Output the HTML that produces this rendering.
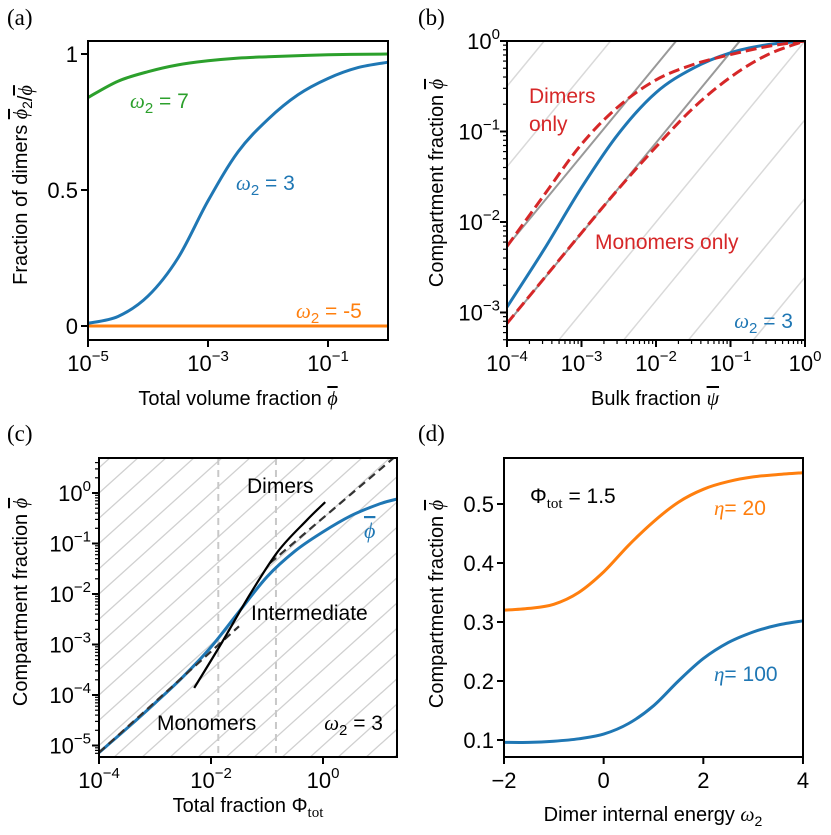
<!DOCTYPE html>
<html><head><meta charset="utf-8"><style>
html,body{margin:0;padding:0;background:#fff;width:831px;height:835px;overflow:hidden;}
svg{display:block;font-family:"Liberation Sans","DejaVu Sans",sans-serif;}
.ser{font-family:"Liberation Serif","DejaVu Serif",serif;}
.ov{text-decoration:overline;font-style:italic;}
</style></head><body>
<svg id="fig" width="831" height="835" viewBox="0 0 831 835" xmlns="http://www.w3.org/2000/svg">
<defs>
<clipPath id="clipB"><rect x="507" y="41" width="298" height="299"/></clipPath>
<clipPath id="clipC"><rect x="99" y="458" width="298" height="299"/></clipPath>
</defs>
</svg>
<script>
// ---------- data ----------
const aGreenX = [-5, -4.5, -4, -3.5, -3, -2.5, -2, -1, 0];
const aGreenY = [0.84, 0.90, 0.935, 0.96, 0.975, 0.985, 0.99, 0.997, 1.0];
const aBlueX = [-5, -4.5, -4, -3.5, -3, -2.5, -2, -1.5, -1, -0.5, 0];
const aBlueY = [0.01, 0.035, 0.11, 0.25, 0.46, 0.64, 0.76, 0.85, 0.91, 0.95, 0.97];
const aOrangeX = [-5, 0];
const aOrangeY = [0.0, 0.0];
const bBlueX = [-4, -3.5, -3, -2.5, -2, -1.5, -1, -0.5, 0];
const bBlueY = [-2.94, -2.3, -1.62, -1.02, -0.57, -0.3, -0.13, -0.04, 0];
const bDimX = [-4, -3.5, -3, -2.5, -2, -1.5, -1, -0.5, 0];
const bDimY = [-2.27, -1.7, -1.14, -0.72, -0.43, -0.26, -0.15, -0.06, 0];
const bMonX = [-4, -3.5, -3, -2.5, -2, -1.5, -1, -0.5, 0];
const bMonY = [-3.12, -2.62, -2.12, -1.63, -1.17, -0.74, -0.4, -0.15, 0];
const bGuideLogC = [-2.61, -1.74, -0.87, 0, 0.875, 1.73, 2.61, 3.5];
const bGuideDark = [false, false, false, false, true, true, false, false];
const cBlueX = [-4, -3.5, -3, -2.5, -2, -1.5, -1, -0.5, 0, 0.5, 1, 1.32];
const cBlueY = [-5.14, -4.66, -4.16, -3.64, -3.05, -2.35, -1.66, -1.15, -0.77, -0.45, -0.22, -0.12];
const cMonoX = [-4, -1.5];
const cMonoY = [-5.14, -2.64];
const cDimX = [-0.95, 1.32];
const cDimY = [-1.39, 0.75];
const cAsymX = [-2.3, -1.8, -1.3, -0.8, -0.3, 0.04];
const cAsymY = [-3.86, -2.95, -2.0, -1.15, -0.55, -0.18];
const cVLines = [-1.87, -0.84];
const dX = [-2, -1.5, -1, -0.5, 0, 0.5, 1, 1.5, 2, 2.5, 3, 3.5, 4];
const dOrange = [0.32, 0.323, 0.33, 0.35, 0.385, 0.43, 0.47, 0.503, 0.525, 0.538, 0.546, 0.55, 0.553];
const dBlue = [0.096, 0.096, 0.098, 0.102, 0.11, 0.128, 0.158, 0.2, 0.238, 0.265, 0.283, 0.295, 0.302];
const aXTicks = [-5, -3, -1];
const aYTicks = [0, 0.5, 1];
const aYTickLabels = ["0", "0.5", "1"];
const bXTicks = [-4, -3, -2, -1, 0];
const bYTicks = [-3, -2, -1, 0];
const cXTicks = [-4, -2, 0];
const cYTicks = [-5, -4, -3, -2, -1, 0];
const dXTicks = [-2, 0, 2, 4];
const dXTickLabels = ["\u22122", "0", "2", "4"];
const dYTicks = [0.1, 0.2, 0.3, 0.4, 0.5];
const dYTickLabels = ["0.1", "0.2", "0.3", "0.4", "0.5"];

const xA = l => 88 + (l + 5) * 60;
const yA = v => 326 - v * 272;
const xB = l => 507 + (l + 4) * 74.5;
const yB = l => 41 - l * 90.5;
const xC = l => 99 + (l + 4) * 56;
const yC = l => 493 - l * 50.5;
const xD = v => 504 + (v + 2) * 49.83;
const yD = v => 504 - (v - 0.5) * 590;

const NS = 'http://www.w3.org/2000/svg';
const svg = document.getElementById('fig');
const TS = 22, AS = 20;
function mk(tag, attrs, parent) {
  const e = document.createElementNS(NS, tag);
  for (const k in attrs) e.setAttribute(k, attrs[k]);
  (parent || svg).appendChild(e);
  return e;
}
function smooth(xs, ys, fx, fy) {
  const p = xs.map((x, i) => [fx(x), fy(ys[i])]);
  if (p.length < 3) return 'M' + p.map(q => q[0].toFixed(1) + ',' + q[1].toFixed(1)).join(' L');
  let d = 'M' + p[0][0].toFixed(1) + ',' + p[0][1].toFixed(1);
  for (let i = 0; i < p.length - 1; i++) {
    const p0 = p[Math.max(0, i - 1)], p1 = p[i], p2 = p[i + 1], p3 = p[Math.min(p.length - 1, i + 2)];
    const c1 = [p1[0] + (p2[0] - p0[0]) / 6, p1[1] + (p2[1] - p0[1]) / 6];
    const c2 = [p2[0] - (p3[0] - p1[0]) / 6, p2[1] - (p3[1] - p1[1]) / 6];
    d += ' C' + c1.map(v => v.toFixed(1)).join(',') + ' ' + c2.map(v => v.toFixed(1)).join(',') + ' ' + p2[0].toFixed(1) + ',' + p2[1].toFixed(1);
  }
  return d;
}
function curve(xs, ys, fx, fy, color, dash, clip) {
  const a = {d: smooth(xs, ys, fx, fy), fill: 'none', stroke: color, 'stroke-width': 3};
  if (dash) a['stroke-dasharray'] = dash;
  if (clip) a['clip-path'] = clip;
  return mk('path', a);
}
function line(x1, y1, x2, y2, color, w, extra) {
  const a = {x1: x1, y1: y1, x2: x2, y2: y2, stroke: color, 'stroke-width': w};
  for (const k in (extra || {})) a[k] = extra[k];
  return mk('line', a);
}
function text(x, y, s, size, anchor, color, cls) {
  const a = {x: x, y: y, 'font-size': size, 'text-anchor': anchor || 'start', fill: color || '#000'};
  if (cls) a['class'] = cls;
  const t = mk('text', a);
  t.textContent = s;
  return t;
}
function addPhi(t, sub) {
  const p = mk('tspan', {'class': 'ser ov'}, t);
  p.textContent = '\u03d5';
  if (sub) { const s = mk('tspan', {dy: 5, 'font-size': 14}, t); s.textContent = sub; const r = mk('tspan', {dy: -5}, t); r.textContent = ''; }
  return t;
}
function powLabel(x, y, exp, anchor) {
  const t = mk('text', {x: x, y: y, 'font-size': TS, 'text-anchor': anchor, fill: '#000'});
  const b = mk('tspan', {}, t); b.textContent = '10';
  const s = mk('tspan', {dy: -10, 'font-size': 15}, t); s.textContent = exp;
  return t;
}
function expStr(e) { return e < 0 ? '\u2212' + (-e) : '' + e; }
function box(x, y, w, h) {
  return mk('rect', {x: x, y: y, width: w, height: h, fill: 'none', stroke: '#000', 'stroke-width': 2});
}
function omega(x, y, rest, color, anchor) {
  const t = mk('text', {x: x, y: y, 'font-size': AS + 1, 'text-anchor': anchor || 'start', fill: color});
  const w = mk('tspan', {'class': 'ser', 'font-style': 'italic'}, t); w.textContent = '\u03c9';
  const s = mk('tspan', {dy: 5, 'font-size': 15}, t); s.textContent = '2';
  const r = mk('tspan', {dy: -5}, t); r.textContent = rest;
  return t;
}

const panelLabels = [['(a)', 7, 25], ['(b)', 418, 25], ['(c)', 7, 441], ['(d)', 418, 441]];
panelLabels.forEach(p => {
  const t = text(p[1], p[2], p[0], 23, 'start', '#000', 'ser');
  
  
});

// ================= PANEL A =================
let e;
e = curve(aOrangeX, aOrangeY, xA, yA, '#ff7f0e');


e = curve(aBlueX, aBlueY, xA, yA, '#1f77b4');


e = curve(aGreenX, aGreenY, xA, yA, '#2ca02c');


e = box(88, 41, 300, 299);


aXTicks.forEach(l => {
  const tk = line(xA(l), 340, xA(l), 347, '#000', 2);
  
  
  const lb = powLabel(xA(l), 371, expStr(l), 'middle');
  
  
});
aYTicks.forEach((v, i) => {
  const tk = line(81, yA(v), 88, yA(v), '#000', 2);
  
  
  const lb = text(78, yA(v) + 8, aYTickLabels[i], TS, 'end');
  
  
});
e = text(238, 405, 'Total volume fraction ', AS, 'middle');
addPhi(e);


e = text(0, 0, 'Fraction of dimers ', AS, 'middle');
addPhi(e, '2');
const sl = mk('tspan', {}, e); sl.textContent = '/';
addPhi(e);
e.setAttribute('transform', 'translate(27,185) rotate(-90)');


e = omega(130, 108, ' = 7', '#2ca02c');


e = omega(236, 190, ' = 3', '#1f77b4');


e = omega(296, 318, ' = -5', '#ff7f0e');



// ================= PANEL B =================
bGuideLogC.forEach((c, i) => {
  const g = line(xB(-4), yB(-4 + c), xB(0), yB(c), bGuideDark[i] ? '#999' : '#d9d9d9', bGuideDark[i] ? 2 : 1.5, {'clip-path': 'url(#clipB)'});
  
  
});
e = curve(bBlueX, bBlueY, xB, yB, '#1f77b4', null, 'url(#clipB)');


e = curve(bDimX, bDimY, xB, yB, '#d62728', '11,5', 'url(#clipB)');


e = curve(bMonX, bMonY, xB, yB, '#d62728', '11,5', 'url(#clipB)');


e = box(507, 41, 298, 299);


for (let d = -4; d <= 0; d++) {
  const tk = line(xB(d), 340, xB(d), 347, '#000', 2);
  
  
  if (d < 0) for (let m = 2; m <= 9; m++) {
    const mt = line(xB(d + Math.log10(m)), 340, xB(d + Math.log10(m)), 344, '#000', 1.2);
    
    
  }
}
bXTicks.forEach(l => {
  const lb = powLabel(xB(l), 371, expStr(l), 'middle');
  
  
});
for (let d = -4; d <= 0; d++) {
  if (d >= -3) {
    const tk = line(500, yB(d), 507, yB(d), '#000', 2);
    
    
  }
  if (d < 0) for (let m = 2; m <= 9; m++) {
    const lv = d + Math.log10(m);
    if (lv < -3.31) continue;
    const mt = line(503, yB(lv), 507, yB(lv), '#000', 1.2);
    
    
  }
}
bYTicks.forEach(l => {
  const lb = powLabel(500, yB(l) + 8, expStr(l), 'end');
  
  
});
e = text(655, 405, 'Bulk fraction ', AS, 'middle');
const psi = mk('tspan', {'class': 'ser ov'}, e); psi.textContent = '\u03c8';


e = text(0, 0, 'Compartment fraction ', AS, 'middle');
addPhi(e);
e.setAttribute('transform', 'translate(443,183) rotate(-90)');


e = text(529, 103, 'Dimers', AS + 1, 'start', '#d62728');


e = text(529, 131, 'only', AS + 1, 'start', '#d62728');


e = text(595, 249, 'Monomers only', AS + 1, 'start', '#d62728');


e = omega(793, 328, ' = 3', '#1f77b4', 'end');



// ================= PANEL C =================
for (let c = -8; c <= 8; c += 0.5) {
  const g = line(xC(-4), yC(-4 + c), xC(1.32), yC(1.32 + c), '#d0d0d0', 1.3, {'clip-path': 'url(#clipC)'});
  
  
}
cVLines.forEach(l => {
  const v = line(xC(l), 458, xC(l), 757, '#c8c8c8', 2, {'stroke-dasharray': '7,5'});
  
  
});
e = curve(cBlueX, cBlueY, xC, yC, '#1f77b4', null, 'url(#clipC)');


e = curve(cMonoX, cMonoY, xC, yC, '#333', '8,5', 'url(#clipC)');
e.setAttribute('stroke-width', 2.2);


e = curve(cDimX, cDimY, xC, yC, '#333', '8,5', 'url(#clipC)');
e.setAttribute('stroke-width', 2.2);


e = curve(cAsymX, cAsymY, xC, yC, '#000', null, 'url(#clipC)');
e.setAttribute('stroke-width', 2.2);


e = box(99, 458, 298, 299);


cXTicks.forEach(l => {
  const tk = line(xC(l), 757, xC(l), 764, '#000', 2);
  
  
  const lb = powLabel(xC(l), 788, expStr(l), 'middle');
  
  
});
for (let d = -6; d <= 0; d++) {
  if (d >= -5) {
    const tk = line(92, yC(d), 99, yC(d), '#000', 2);
    
    
  }
  for (let m = 2; m <= 9; m++) {
    const lv = d + Math.log10(m);
    if (lv < -5.22 || lv > 0.69) continue;
    const mt = line(95, yC(lv), 99, yC(lv), '#000', 1.2);
    
    
  }
}
cYTicks.forEach(l => {
  const lb = powLabel(91, yC(l) + 8, expStr(l), 'end');
  
  
});
e = mk('text', {x: 248, y: 812, 'font-size': AS, 'text-anchor': 'middle', fill: '#000'});
e.textContent = 'Total fraction \u03a6';
const sub = mk('tspan', {dy: 5, 'font-size': 15, 'class': 'ser'}, e);
sub.textContent = 'tot';


e = text(0, 0, 'Compartment fraction ', AS, 'middle');
addPhi(e);
e.setAttribute('transform', 'translate(27,602) rotate(-90)');


e = text(247, 493, 'Dimers', AS + 1, 'start');


e = text(251, 620, 'Intermediate', AS + 1, 'start');


e = text(157, 730, 'Monomers', AS + 1, 'start');


e = omega(383, 730, ' = 3', '#000', 'end');


e = text(364, 538, '', 22, 'start', '#1f77b4');
addPhi(e);



// ================= PANEL D =================
e = curve(dX, dOrange, xD, yD, '#ff7f0e');


e = curve(dX, dBlue, xD, yD, '#1f77b4');


e = box(504, 458, 299, 299);


dXTicks.forEach((v, i) => {
  const tk = line(xD(v), 757, xD(v), 764, '#000', 2);
  
  
  const lb = text(xD(v), 788, dXTickLabels[i], TS, 'middle');
  
  
});
dYTicks.forEach((v, i) => {
  const tk = line(497, yD(v), 504, yD(v), '#000', 2);
  
  
  const lb = text(494, yD(v) + 8, dYTickLabels[i], TS, 'end');
  
  
});
e = text(653, 821, 'Dimer internal energy ', AS, 'middle');
const w2 = mk('tspan', {'class': 'ser', 'font-style': 'italic'}, e); w2.textContent = '\u03c9';
const w2s = mk('tspan', {dy: 5, 'font-size': 14}, e); w2s.textContent = '2';


e = text(0, 0, 'Compartment fraction ', AS, 'middle');
addPhi(e);
e.setAttribute('transform', 'translate(443,604) rotate(-90)');


e = mk('text', {x: 530, y: 503, 'font-size': AS + 1, fill: '#000'});
e.textContent = '\u03a6';
const sub2 = mk('tspan', {dy: 5, 'font-size': 15, 'class': 'ser'}, e);
sub2.textContent = 'tot';
const rest2 = mk('tspan', {dy: -5}, e);
rest2.textContent = ' = 1.5';


e = text(714, 515, '', AS + 1, 'start', '#ff7f0e');
const et1 = mk('tspan', {'class': 'ser', 'font-style': 'italic'}, e); et1.textContent = '\u03b7';
const et1b = mk('tspan', {}, e); et1b.textContent = '= 20';


e = text(714, 681, '', AS + 1, 'start', '#1f77b4');
const et2 = mk('tspan', {'class': 'ser', 'font-style': 'italic'}, e); et2.textContent = '\u03b7';
const et2b = mk('tspan', {}, e); et2b.textContent = '= 100';


</script>
</body></html>
